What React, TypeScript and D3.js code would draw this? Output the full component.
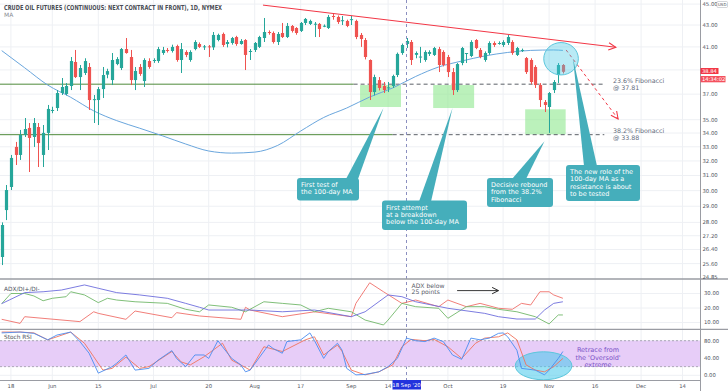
import * as d3 from 'd3'

// ---- chart values ----
const opens = [25.97, 28.76, 30.24, 32.99, 32.42, 33.86, 34.38, 33.71, 34.45, 32.42, 34.01, 35.67, 35.9, 37.09, 37.01, 37.66, 39.68, 38.4, 38.74, 39.25, 36.53, 36.53, 37.41, 38.6, 38.15, 39.5, 39.16, 40.81, 40.11, 38.15, 39.25, 38.07, 39.76, 39.8, 39.76, 40.46, 40.73, 40.64, 41.08, 39.85, 40.55, 39.85, 40.81, 41.26, 41.02, 41.05, 40.96, 41.62, 42.17, 41.26, 41.35, 41.89, 41.26, 41.62, 40.6, 40.73, 41.0, 41.8, 42.35, 42.26, 41.44, 42.26, 41.89, 42.91, 42.72, 42.45, 43.19, 43.1, 43.1, 43.1, 42.9, 42.72, 43.85, 43.76, 43.4, 43.38, 43.5, 43.38, 42.08, 41.62, 39.85, 37.17, 38.15, 37.66, 37.5, 37.66, 38.57, 40.46, 41.26, 41.44, 40.3, 40.1, 39.85, 40.38, 40.29, 40.81, 40.55, 40.11, 38.82, 37.33, 39.59, 40.4, 40.2, 41.62, 40.73, 39.85, 40.46, 41.35, 41.3, 41.17, 41.35, 41.44, 40.29, 40.7, 40.02, 39.85, 39.25, 37.74, 36.37, 35.98, 37.33, 38.57, 39.42]
const highs = [28.0, 30.37, 32.42, 33.35, 34.23, 35.13, 34.75, 35.13, 34.75, 34.6, 36.14, 36.0, 37.33, 38.32, 37.9, 40.11, 40.73, 39.42, 40.0, 39.59, 36.93, 37.58, 39.25, 39.1, 40.46, 40.1, 40.9, 41.8, 40.73, 39.25, 39.5, 40.0, 40.0, 40.0, 41.0, 41.0, 40.9, 41.2, 41.2, 41.35, 40.7, 40.7, 41.6, 41.4, 41.17, 41.17, 42.35, 42.2, 42.3, 41.62, 41.9, 42.0, 41.7, 41.7, 40.81, 41.44, 42.0, 43.66, 42.5, 42.4, 42.35, 43.19, 43.19, 43.0, 42.8, 43.28, 43.66, 43.5, 43.28, 43.19, 43.05, 43.95, 44.1, 43.9, 43.85, 43.5, 43.85, 43.5, 42.26, 41.8, 39.9, 38.6, 38.4, 37.99, 37.99, 38.6, 40.5, 41.3, 41.8, 41.62, 40.6, 41.0, 40.7, 40.7, 41.0, 41.0, 40.7, 40.29, 39.16, 39.59, 41.0, 40.46, 41.6, 41.7, 40.9, 40.6, 41.5, 41.5, 41.5, 41.6, 42.08, 41.6, 41.0, 40.85, 40.11, 40.0, 39.4, 37.9, 36.53, 37.17, 38.15, 39.59, 39.5]
const lows = [25.52, 28.14, 30.04, 31.72, 32.07, 33.71, 31.24, 32.99, 31.58, 31.58, 32.77, 35.5, 35.67, 36.93, 36.9, 37.33, 38.32, 37.33, 38.57, 35.75, 34.75, 34.6, 36.69, 38.3, 37.74, 39.4, 38.99, 40.4, 37.74, 37.33, 38.5, 37.58, 39.1, 39.6, 39.6, 40.3, 40.5, 40.5, 39.7, 38.74, 40.1, 39.7, 40.7, 40.9, 40.73, 40.11, 40.73, 41.5, 41.0, 40.96, 41.2, 41.1, 41.2, 38.99, 39.85, 40.55, 40.9, 41.44, 42.1, 41.3, 41.17, 41.8, 41.8, 42.3, 42.1, 42.35, 43.0, 43.0, 41.89, 41.89, 42.8, 42.63, 43.5, 43.1, 43.0, 42.8, 43.0, 41.7, 41.0, 39.9, 36.53, 36.9, 37.3, 37.09, 37.17, 37.5, 38.4, 40.3, 40.9, 39.42, 40.0, 39.6, 39.7, 40.2, 40.2, 38.82, 39.3, 38.4, 36.93, 37.17, 39.4, 39.59, 40.1, 40.8, 40.0, 39.7, 40.3, 41.0, 41.2, 41.0, 41.17, 40.3, 40.2, 40.55, 38.66, 37.8, 37.5, 35.98, 35.59, 34.01, 37.09, 37.9, 38.7]
const closes = [27.84, 30.04, 32.21, 32.42, 33.86, 34.3, 33.64, 34.75, 33.27, 34.01, 35.83, 35.75, 37.09, 37.58, 37.66, 39.76, 38.4, 39.16, 39.76, 36.53, 36.6, 37.41, 38.57, 38.9, 39.85, 39.93, 40.81, 40.46, 38.15, 38.91, 38.66, 39.85, 39.25, 39.85, 40.81, 40.73, 40.7, 41.0, 39.85, 40.81, 40.29, 40.55, 41.44, 41.0, 41.05, 41.0, 42.08, 42.08, 41.17, 41.44, 41.8, 41.26, 41.53, 40.29, 40.64, 41.35, 41.89, 42.35, 42.26, 41.44, 42.17, 41.89, 42.91, 42.45, 42.26, 43.19, 43.57, 43.38, 43.12, 42.63, 42.93, 43.76, 43.76, 43.28, 43.45, 42.91, 43.55, 41.89, 41.71, 40.11, 37.17, 38.4, 37.5, 37.33, 37.55, 38.49, 40.38, 41.17, 41.53, 39.85, 40.46, 40.15, 40.55, 40.55, 40.9, 39.42, 39.42, 38.82, 37.33, 39.5, 40.9, 40.46, 41.44, 40.9, 40.11, 40.46, 41.35, 41.17, 41.35, 41.44, 41.89, 40.46, 40.9, 40.73, 38.82, 37.99, 37.74, 36.53, 36.14, 37.09, 37.99, 39.42, 38.84]

// [bar, value]
const ma100: [number, number][] = [[0, 40.67], [5, 39.18], [10, 37.74], [15, 36.75], [20, 35.68], [25, 34.93], [30, 34.36], [35, 33.79], [40, 33.2], [45, 32.7], [50, 32.55], [55, 32.62], [60, 33.1], [65, 34.15], [70, 35.17], [75, 35.9], [80, 36.77], [85, 37.5], [90, 38.45], [95, 39.25], [100, 39.76], [105, 40.2], [110, 40.51], [115, 40.69], [120, 40.73], [122, 40.69]]
const adx: [number, number][] = [[0, 23], [5, 30.6], [9, 31.2], [13, 32.4], [18, 35.9], [21, 33.6], [25, 30.6], [30, 29], [36, 26.7], [40, 23.2], [43, 20.5], [45, 18.6], [54, 18.6], [61, 17.4], [68, 18.6], [76, 14], [79, 17.4], [84, 29], [87, 27.8], [90, 24.3], [97, 19.8], [105, 16.3], [108, 14], [112, 12.4], [116, 12.4], [118, 18.6], [120, 23.2], [122, 24.3]]
const diPlus: [number, number][] = [[0, 23], [2, 30], [5, 30], [7, 28.3], [9, 25], [11, 26.7], [14, 27.8], [15, 31.2], [18, 29], [21, 23.7], [23, 26.7], [25, 25.5], [29, 24.3], [36, 23.2], [40, 19.1], [43, 17.4], [45, 22.1], [50, 20.5], [53, 17.4], [57, 24.3], [61, 23.2], [65, 22.1], [68, 17.4], [71, 19.8], [76, 17.4], [79, 11.7], [83, 8.3], [84, 11.7], [87, 23.2], [90, 20.9], [95, 19.8], [97, 12.9], [101, 20.9], [105, 20.9], [108, 19.1], [112, 17.4], [116, 14], [119, 9], [121, 15.2], [122, 15.2]]
const diMinus: [number, number][] = [[0, 12.2], [4, 9.4], [5, 14], [17, 10.6], [20, 17.4], [21, 16.3], [27, 12.2], [29, 17.9], [37, 13.3], [38, 16.8], [43, 14.5], [52, 12.2], [53, 20.5], [54, 18.6], [61, 14], [68, 17.4], [76, 14], [77, 23.2], [80, 37.4], [83, 31.2], [87, 23.2], [90, 25.5], [95, 20.9], [97, 25.5], [101, 20.9], [104, 23.2], [108, 19.8], [111, 19.1], [113, 23.2], [115, 22.1], [117, 31.2], [119, 31.2], [120, 29], [122, 26.7]]
const stochK: [number, number][] = [[0, 98], [4, 100], [7, 97], [10, 82], [12, 93], [15, 100], [17, 78], [19, 51], [21, 5], [24, 20], [25, 28], [27, 47], [29, 12], [32, 16], [34, 35], [37, 57], [38, 39], [40, 20], [42, 47], [44, 47], [45, 39], [47, 80], [48, 66], [50, 39], [52, 24], [53, 8], [54, 12], [58, 70], [59, 62], [61, 51], [62, 78], [65, 82], [67, 98], [68, 80], [70, 39], [71, 55], [73, 74], [74, 58], [75, 16], [77, 1], [79, 2], [82, 8], [84, 20], [86, 39], [88, 86], [90, 80], [92, 78], [94, 86], [96, 78], [98, 47], [100, 37], [102, 86], [104, 82], [106, 86], [108, 97], [109, 98], [110, 89], [112, 58], [113, 16], [116, 12], [118, 1], [119, 12], [121, 39], [122, 55]]
const stochD: [number, number][] = [[0, 100], [4, 100], [7, 98], [10, 82], [12, 89], [15, 100], [18, 74], [20, 43], [22, 12], [24, 16], [27, 42], [30, 16], [32, 20], [37, 55], [39, 31], [41, 24], [44, 43], [48, 74], [50, 35], [53, 18], [54, 12], [57, 66], [61, 55], [66, 82], [68, 89], [70, 47], [73, 70], [74, 55], [76, 12], [79, 1], [82, 8], [85, 24], [87, 66], [89, 83], [92, 80], [94, 83], [97, 66], [100, 39], [103, 74], [105, 86], [108, 89], [110, 98], [112, 82], [114, 24], [116, 12], [118, 8], [120, 20], [122, 39]]

const priceTicks = [45, 43, 41, 39, 37, 35, 34, 33, 32, 31, 30, 29, 28, 27.2, 26.4, 25.6, 24.85]
const adxTicks = [10, 20, 30]
const stochTicks = [0, 40, 80]
const dateTicks = ['2020-05-18', '2020-06-01', '2020-06-15', '2020-07-01', '2020-07-20', '2020-08-03', '2020-08-17', '2020-09-01', '2020-09-14', '2020-10-01', '2020-10-19', '2020-11-02', '2020-11-16', '2020-12-01', '2020-12-14']
const dateLabels = ['18', 'Jun', '15', 'Jul', '20', 'Aug', '17', 'Sep', '14', 'Oct', '19', 'Nov', '16', 'Dec', '14']
const holidays = ['2020-05-25', '2020-07-03', '2020-09-07', '2020-11-26', '2020-12-25']

// annotations, anchored in [bar, price]
const fibLevels = [
  { label: '23.6% Fibonacci', price: 37.81, solidTo: 76.5 },
  { label: '38.2% Fibonacci', price: 33.88, solidTo: 85 },
]
const zones: [number, number, number, number][] = [
  [77.9, 86.8, 37.74, 35.98],
  [93.8, 102.7, 37.74, 35.9],
  [113.8, 122.6, 35.8, 33.9],
]
const trendLine: [number, number][] = [[56.8, 44.9], [133.5, 40.97]]
const dropArrow: [number, number][] = [[122.7, 40.73], [134, 35.06]]
const callouts = [
  { lines: ['First test of', 'the 100-day MA'], box: [297, 178, 62, 22.5], base: [346, 358], tip: [83, 35.9] },
  { lines: ['First attempt', 'at a breakdown', 'below the 100-day MA'], box: [382, 200.5, 85, 29.5], base: [419, 431], tip: [98, 35.9] },
  { lines: ['Decisive rebound', 'from the 38.2%', 'Fibonacci'], box: [487, 178, 66, 29], base: [512, 526], tip: [118, 33.4] },
  { lines: ['The new role of the', '100-day MA as a', 'resistance is about', 'to be tested'], box: [566, 165, 74, 36], base: [584, 597], tip: [124.2, 40.0] },
]

const FONT = "'DejaVu Sans', Verdana, sans-serif"
const GREEN = '#26a69a'
const RED = '#ef5350'
const GRID = '#eef0f4'
const AXIS_X = 700

export default function App() {
  const fmt = d3.timeFormat('%Y-%m-%d')
  const days = d3
    .timeDay.range(new Date(2020, 4, 14), new Date(2020, 11, 20))
    .filter((d) => d.getDay() !== 0 && d.getDay() !== 6 && !holidays.includes(fmt(d)))
    .map(fmt)

  const x = d3.scaleLinear().domain([0, days.length - 1]).range([1.7, 1.7 + (days.length - 1) * 4.6])
  const y = d3.scaleLog().domain([24.85, 43]).range([277.3, 25])
  const yAdx = d3.scaleLinear().domain([10, 30]).range([322.5, 293.5])
  const ySt = d3.scaleLinear().domain([0, 80]).range([375.3, 340.7])

  const priceLine = d3.line<[number, number]>().x((d) => x(d[0])).y((d) => y(d[1]))
  const maLine = d3.line<[number, number]>().x((d) => x(d[0])).y((d) => y(d[1])).curve(d3.curveMonotoneX)
  const adxLine = d3.line<[number, number]>().x((d) => x(d[0])).y((d) => yAdx(d[1]))
  const stLine = d3.line<[number, number]>().x((d) => x(d[0])).y((d) => ySt(d[1]))

  const tickX = dateTicks.map((t) => x(days.indexOf(t)))
  const selBar = days.indexOf('2020-09-18')
  const last = closes[closes.length - 1]

  return (
    <div style={{ position: 'absolute', left: 0, top: 0 }}>
      <svg width={728} height={391} style={{ display: 'block', background: '#fff', fontFamily: FONT }}>
        <defs>
          <clipPath id="mainClip"><rect x={0} y={0} width={AXIS_X} height={278} /></clipPath>
          <clipPath id="adxClip"><rect x={0} y={280} width={AXIS_X} height={49} /></clipPath>
          <clipPath id="stClip"><rect x={0} y={330} width={AXIS_X} height={50} /></clipPath>
          <marker id="redHead" viewBox="0 0 10 10" refX={9} refY={5} markerWidth={9} markerHeight={9} markerUnits="userSpaceOnUse" orient="auto">
            <path d="M1,1 L9,5 L1,9" fill="none" stroke="#f23645" strokeWidth={1.2} />
          </marker>
          <marker id="blackHead" viewBox="0 0 10 10" refX={9} refY={5} markerWidth={8} markerHeight={8} markerUnits="userSpaceOnUse" orient="auto">
            <path d="M1,1 L9,5 L1,9" fill="none" stroke="#222" strokeWidth={1.2} />
          </marker>
        </defs>

        {/* grid */}
        {tickX.map((tx, i) => (
          <line key={'vg' + i} x1={tx} x2={tx} y1={0} y2={380} stroke={GRID} strokeWidth={1} />
        ))}
        {priceTicks.slice(0, -1).map((p) => (
          <line key={'pg' + p} x1={0} x2={AXIS_X} y1={y(p)} y2={y(p)} stroke={GRID} />
        ))}
        {adxTicks.map((v) => (
          <line key={'ag' + v} x1={0} x2={AXIS_X} y1={yAdx(v)} y2={yAdx(v)} stroke={GRID} />
        ))}
        {stochTicks.map((v) => (
          <line key={'sg' + v} x1={0} x2={AXIS_X} y1={ySt(v)} y2={ySt(v)} stroke={GRID} />
        ))}

        {/* main pane */}
        <g clipPath="url(#mainClip)">
          {zones.map(([b0, b1, p0, p1], i) => (
            <rect key={'z' + i} x={x(b0)} y={y(p0)} width={x(b1) - x(b0)} height={y(p1) - y(p0)} fill="#8ee88e" opacity={0.6} />
          ))}
          {fibLevels.map((f) => (
            <g key={f.label}>
              <line x1={0} x2={x(f.solidTo)} y1={y(f.price)} y2={y(f.price)} stroke="#4f8a3a" strokeWidth={1} />
              <line x1={x(f.solidTo)} x2={x(131)} y1={y(f.price)} y2={y(f.price)} stroke="#4a4f57" strokeWidth={0.9} strokeDasharray="4,3" />
            </g>
          ))}
          <path d={maLine(ma100) || ''} fill="none" stroke="#6aa6dd" strokeWidth={1} />
          {opens.map((o, i) => {
            const c = closes[i]
            const up = c >= o
            const cx = Math.round(x(i)) + 0.5
            const top = y(Math.max(o, c))
            const h = Math.max(1, y(Math.min(o, c)) - top)
            return (
              <g key={'c' + i}>
                <line x1={cx} x2={cx} y1={y(highs[i])} y2={y(lows[i])} stroke={up ? GREEN : RED} strokeWidth={1} />
                <rect x={cx - 1.6} y={top} width={3.2} height={h} fill={up ? GREEN : RED} />
              </g>
            )
          })}
          <path d={priceLine(trendLine) || ''} fill="none" stroke="#f23645" strokeWidth={1} markerEnd="url(#redHead)" />
          <path d={priceLine(dropArrow) || ''} fill="none" stroke="#f23645" strokeWidth={1} strokeDasharray="3,3" markerEnd="url(#redHead)" />
          <ellipse cx={x(121.6)} cy={y(39.96)} rx={17.3} ry={16.2} fill="rgba(70, 200, 230, 0.38)" stroke="#5cc6dc" strokeWidth={1} />
        </g>

        {/* selected date line */}
        <line x1={x(selBar)} x2={x(selBar)} y1={0} y2={380} stroke="#8b8fc0" strokeWidth={1} strokeDasharray="3,3" />

        {/* callouts */}
        {callouts.map((c, i) => {
          const [bx, by, bw, bh] = c.box
          const tx = x(c.tip[0])
          const ty = y(c.tip[1])
          return (
            <g key={'co' + i}>
              <path d={`M${c.base[0]},${by + 1} L${tx},${ty} L${c.base[1]},${by + 1} Z`} fill="#45aebb" />
              <rect x={bx} y={by} width={bw} height={bh} rx={3} fill="#45aebb" />
              {c.lines.map((l, j) => (
                <text key={j} x={bx + 4} y={by + 9.3 + j * 7.1} fontSize={6.5} fill="#fff">{l}</text>
              ))}
            </g>
          )
        })}

        {/* fib labels */}
        {fibLevels.map((f) => (
          <g key={'fl' + f.label} fill="#5f6b7d" fontSize={6.3}>
            <text x={613} y={y(f.price) - 1.2}>{f.label}</text>
            <text x={613} y={y(f.price) + 5.5}>{'@ ' + f.price.toFixed(2)}</text>
          </g>
        ))}

        {/* title */}
        <text x={4} y={10} fontSize={6.8} fontWeight="bold" fill="#4a4d55" textLength={218} lengthAdjust="spacingAndGlyphs">
          CRUDE OIL FUTURES (CONTINUOUS: NEXT CONTRACT IN FRONT), 1D, NYMEX
        </text>
        <text x={4} y={17} fontSize={6} fill="#8a8d95">MA</text>

        {/* ADX pane */}
        <g clipPath="url(#adxClip)">
          <path d={adxLine(diMinus) || ''} fill="none" stroke="#ef6f6a" strokeWidth={0.9} />
          <path d={adxLine(diPlus) || ''} fill="none" stroke="#72b86a" strokeWidth={0.9} />
          <path d={adxLine(adx) || ''} fill="none" stroke="#6d6ddc" strokeWidth={0.9} />
        </g>
        <text x={4} y={290.5} fontSize={5.8} fill="#50535e">ADX/DI+/DI-</text>
        <text x={411.5} y={288} fontSize={6.1} fill="#5a5e6a">ADX below</text>
        <text x={411.5} y={294.3} fontSize={6.1} fill="#5a5e6a">25 points</text>
        <line x1={x(99)} x2={x(108)} y1={yAdx(32)} y2={yAdx(32)} stroke="#222" strokeWidth={0.9} markerEnd="url(#blackHead)" />

        {/* Stoch RSI pane */}
        <rect x={0} y={ySt(80)} width={AXIS_X} height={ySt(20) - ySt(80)} fill="#e7cdf8" />
        <line x1={0} x2={AXIS_X} y1={ySt(80)} y2={ySt(80)} stroke="#8d8d9a" strokeWidth={0.7} strokeDasharray="2,2" />
        <line x1={0} x2={AXIS_X} y1={ySt(20)} y2={ySt(20)} stroke="#8d8d9a" strokeWidth={0.7} strokeDasharray="2,2" />
        <g clipPath="url(#stClip)">
          <ellipse cx={x(117.8)} cy={ySt(22)} rx={28.3} ry={14} fill="rgba(70, 200, 235, 0.55)" stroke="#5cc6dc" strokeWidth={1} />
          <path d={stLine(stochD) || ''} fill="none" stroke="#f0735c" strokeWidth={0.9} />
          <path d={stLine(stochK) || ''} fill="none" stroke="#4a8cf0" strokeWidth={0.9} />
        </g>
        <text x={4} y={339} fontSize={5.8} fill="#50535e">Stoch RSI</text>
        <g fontSize={6.5} fill="#7a52c7" textAnchor="middle">
          <text x={598} y={352.3}>Retrace from</text>
          <text x={598} y={359.5}>the 'Oversold'</text>
          <text x={598} y={366.7}>extreme</text>
        </g>

        {/* pane separators & axes */}
        <line x1={0} x2={728} y1={279} y2={279} stroke="#9a9ca3" strokeWidth={1.3} />
        <line x1={0} x2={728} y1={329.3} y2={329.3} stroke="#9a9ca3" strokeWidth={1.3} />
        <line x1={0} x2={AXIS_X} y1={380.5} y2={380.5} stroke="#9a9ca3" strokeWidth={1} />
        <line x1={AXIS_X + 0.5} x2={AXIS_X + 0.5} y1={0} y2={391} stroke="#9a9ca3" strokeWidth={1} />

        {/* price axis */}
        <g fontSize={5.3} fill="#50535e">
          {priceTicks.filter((p) => p !== 39).map((p) => (
            <text key={'pt' + p} x={702.5} y={y(p) + 1.9}>{p.toFixed(2)}</text>
          ))}
          {adxTicks.map((v) => (
            <text key={'at' + v} x={704} y={yAdx(v) + 1.9}>{v.toFixed(2)}</text>
          ))}
          {stochTicks.map((v) => (
            <text key={'st' + v} x={704} y={ySt(v) + 1.9}>{v.toFixed(2)}</text>
          ))}
        </g>
        <rect x={717} y={1.5} width={10.5} height={6} fill="#fff" stroke="#b5b8c0" strokeWidth={0.6} rx={1} />
        <text x={722.2} y={6.2} fontSize={4} fill="#50535e" textAnchor="middle">USD</text>
        <rect x={700.5} y={y(last) - 3.8} width={18} height={6} fill="#f23645" />
        <text x={702} y={y(last) + 1.4} fontSize={5.2} fill="#fff">{last.toFixed(2)}</text>
        <rect x={700.5} y={76} width={25} height={6.3} fill="#f4515e" />
        <text x={702} y={81.2} fontSize={5.2} fill="#fff">14:34:02</text>

        {/* date axis */}
        <g fontSize={5.3} fill="#50535e" textAnchor="middle">
          {dateLabels.map((l, i) => (
            <text key={'dl' + i} x={tickX[i]} y={388}>{l}</text>
          ))}
        </g>
        <rect x={x(selBar) - 14} y={380} width={28.5} height={9.5} fill="#2233dd" />
        <text x={x(selBar)} y={387} fontSize={5.3} fill="#fff" textAnchor="middle">18 Sep '20</text>
      </svg>
    </div>
  )
}
